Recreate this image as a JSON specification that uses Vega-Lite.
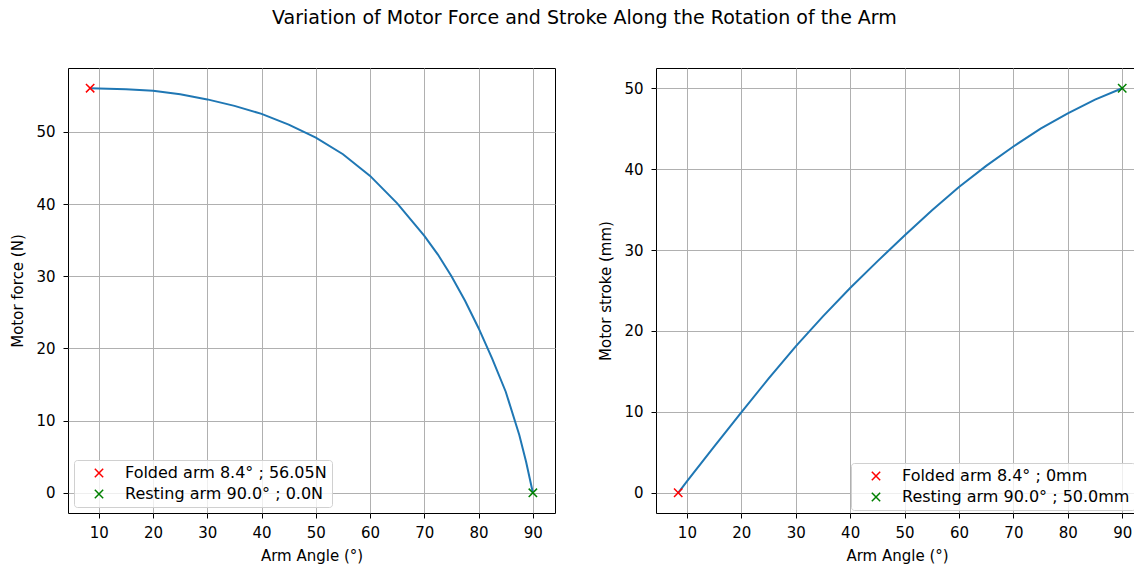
{
  "$schema": "https://vega.github.io/schema/vega-lite/v6.json",
  "background": "white",
  "padding": {"left": 10, "top": 8, "right": 0, "bottom": 0},
  "title": {"text": "Variation of Motor Force and Stroke Along the Rotation of the Arm", "font": "DejaVu Sans", "fontSize": 19, "fontWeight": "normal", "color": "black", "anchor": "middle", "offset": 40, "dx": 10},
  "datasets": {
    "force": [
      {"angle": 8.4, "force": 56.05}, {"angle": 10, "force": 56.0}, {"angle": 15, "force": 55.9}, {"angle": 20, "force": 55.7},
      {"angle": 25, "force": 55.2}, {"angle": 30, "force": 54.5}, {"angle": 35, "force": 53.6}, {"angle": 40, "force": 52.5},
      {"angle": 45, "force": 51.0}, {"angle": 50, "force": 49.2}, {"angle": 55, "force": 46.9}, {"angle": 60, "force": 43.9},
      {"angle": 65, "force": 40.1}, {"angle": 70, "force": 35.6}, {"angle": 72.5, "force": 33.0}, {"angle": 75, "force": 30.0},
      {"angle": 77.5, "force": 26.6}, {"angle": 80, "force": 22.8}, {"angle": 82.5, "force": 18.6}, {"angle": 85, "force": 14.0},
      {"angle": 87.5, "force": 8.0}, {"angle": 88.75, "force": 4.3}, {"angle": 90, "force": 0.0}
    ],
    "forceMarks": [
      {"angle": 8.4, "force": 56.05, "label": "Folded arm 8.4° ; 56.05N"},
      {"angle": 90, "force": 0.0, "label": "Resting arm 90.0° ; 0.0N"}
    ],
    "stroke": [
      {"angle": 8.4, "stroke": 0}, {"angle": 10, "stroke": 1.4}, {"angle": 15, "stroke": 5.7}, {"angle": 20, "stroke": 9.95},
      {"angle": 25, "stroke": 14.1}, {"angle": 30, "stroke": 18.1}, {"angle": 35, "stroke": 21.8}, {"angle": 40, "stroke": 25.3},
      {"angle": 45, "stroke": 28.6}, {"angle": 50, "stroke": 31.8}, {"angle": 55, "stroke": 34.9}, {"angle": 60, "stroke": 37.8},
      {"angle": 65, "stroke": 40.4}, {"angle": 70, "stroke": 42.8}, {"angle": 75, "stroke": 45.0}, {"angle": 80, "stroke": 46.9},
      {"angle": 85, "stroke": 48.6}, {"angle": 90, "stroke": 50.0}
    ],
    "strokeMarks": [
      {"angle": 8.4, "stroke": 0, "label": "Folded arm 8.4° ; 0mm"},
      {"angle": 90, "stroke": 50.0, "label": "Resting arm 90.0° ; 50.0mm"}
    ]
  },
  "spacing": 42,
  "resolve": {"scale": {"color": "independent"}, "legend": {"color": "independent"}},
  "hconcat": [
    {
      "width": 487, "height": 445,
      "layer": [
        {
          "data": {"name": "force"},
          "mark": {"type": "line", "color": "#1f77b4", "strokeWidth": 2},
          "encoding": {
            "x": {"field": "angle", "type": "quantitative", "scale": {"domain": [4.32, 94.08], "nice": false, "zero": false},
                  "axis": {"title": "Arm Angle (°)", "values": [10, 20, 30, 40, 50, 60, 70, 80, 90]}},
            "y": {"field": "force", "type": "quantitative", "scale": {"domain": [-2.8, 58.85], "nice": false, "zero": false},
                  "axis": {"title": "Motor force (N)", "values": [0, 10, 20, 30, 40, 50]}}
          }
        },
        {
          "data": {"name": "forceMarks"},
          "mark": {"type": "point", "shape": "M-1,-1L1,1M-1,1L1,-1", "filled": false, "size": 70, "strokeWidth": 1.5, "opacity": 1},
          "encoding": {
            "x": {"field": "angle", "type": "quantitative"},
            "y": {"field": "force", "type": "quantitative"},
            "color": {"field": "label", "type": "nominal",
                      "scale": {"domain": ["Folded arm 8.4° ; 56.05N", "Resting arm 90.0° ; 0.0N"], "range": ["#ff0000", "#008000"]},
                      "legend": {"orient": "bottom-left", "offset": 6}}
          }
        }
      ]
    },
    {
      "width": 482, "height": 445,
      "layer": [
        {
          "data": {"name": "stroke"},
          "mark": {"type": "line", "color": "#1f77b4", "strokeWidth": 2},
          "encoding": {
            "x": {"field": "angle", "type": "quantitative", "scale": {"domain": [4.32, 92.9], "nice": false, "zero": false},
                  "axis": {"title": "Arm Angle (°)", "values": [10, 20, 30, 40, 50, 60, 70, 80, 90]}},
            "y": {"field": "stroke", "type": "quantitative", "scale": {"domain": [-2.5, 52.5], "nice": false, "zero": false},
                  "axis": {"title": "Motor stroke (mm)", "values": [0, 10, 20, 30, 40, 50]}}
          }
        },
        {
          "data": {"name": "strokeMarks"},
          "mark": {"type": "point", "shape": "M-1,-1L1,1M-1,1L1,-1", "filled": false, "size": 70, "strokeWidth": 1.5, "opacity": 1},
          "encoding": {
            "x": {"field": "angle", "type": "quantitative"},
            "y": {"field": "stroke", "type": "quantitative"},
            "color": {"field": "label", "type": "nominal",
                      "scale": {"domain": ["Folded arm 8.4° ; 0mm", "Resting arm 90.0° ; 50.0mm"], "range": ["#ff0000", "#008000"]},
                      "legend": {"orient": "bottom-right", "offset": 3}}
          }
        }
      ]
    }
  ],
  "config": {
    "font": "DejaVu Sans",
    "view": {"stroke": "black", "strokeWidth": 1},
    "axis": {
      "grid": true, "gridColor": "#b0b0b0", "gridWidth": 1, "domain": false,
      "ticks": true, "tickColor": "black", "tickSize": 5, "tickWidth": 1,
      "labelFont": "DejaVu Sans", "labelFontSize": 15, "labelColor": "black",
      "titleFont": "DejaVu Sans", "titleFontSize": 15, "titleFontWeight": "normal", "titleColor": "black"
    },
    "axisX": {"labelPadding": 7, "titlePadding": 8},
    "axisY": {"labelPadding": 8, "titlePadding": 10},
    "legend": {
      "title": null, "padding": 5,
      "fillColor": "rgba(255,255,255,0.8)", "strokeColor": "#d0d0d0", "cornerRadius": 3,
      "labelFont": "DejaVu Sans", "labelFontSize": 16, "labelColor": "black", "labelLimit": 400,
      "symbolType": "M-1,-1L1,1M-1,1L1,-1", "symbolSize": 70, "symbolStrokeWidth": 1.5,
      "symbolOffset": 12, "labelOffset": 18, "rowPadding": 5
    }
  }
}
